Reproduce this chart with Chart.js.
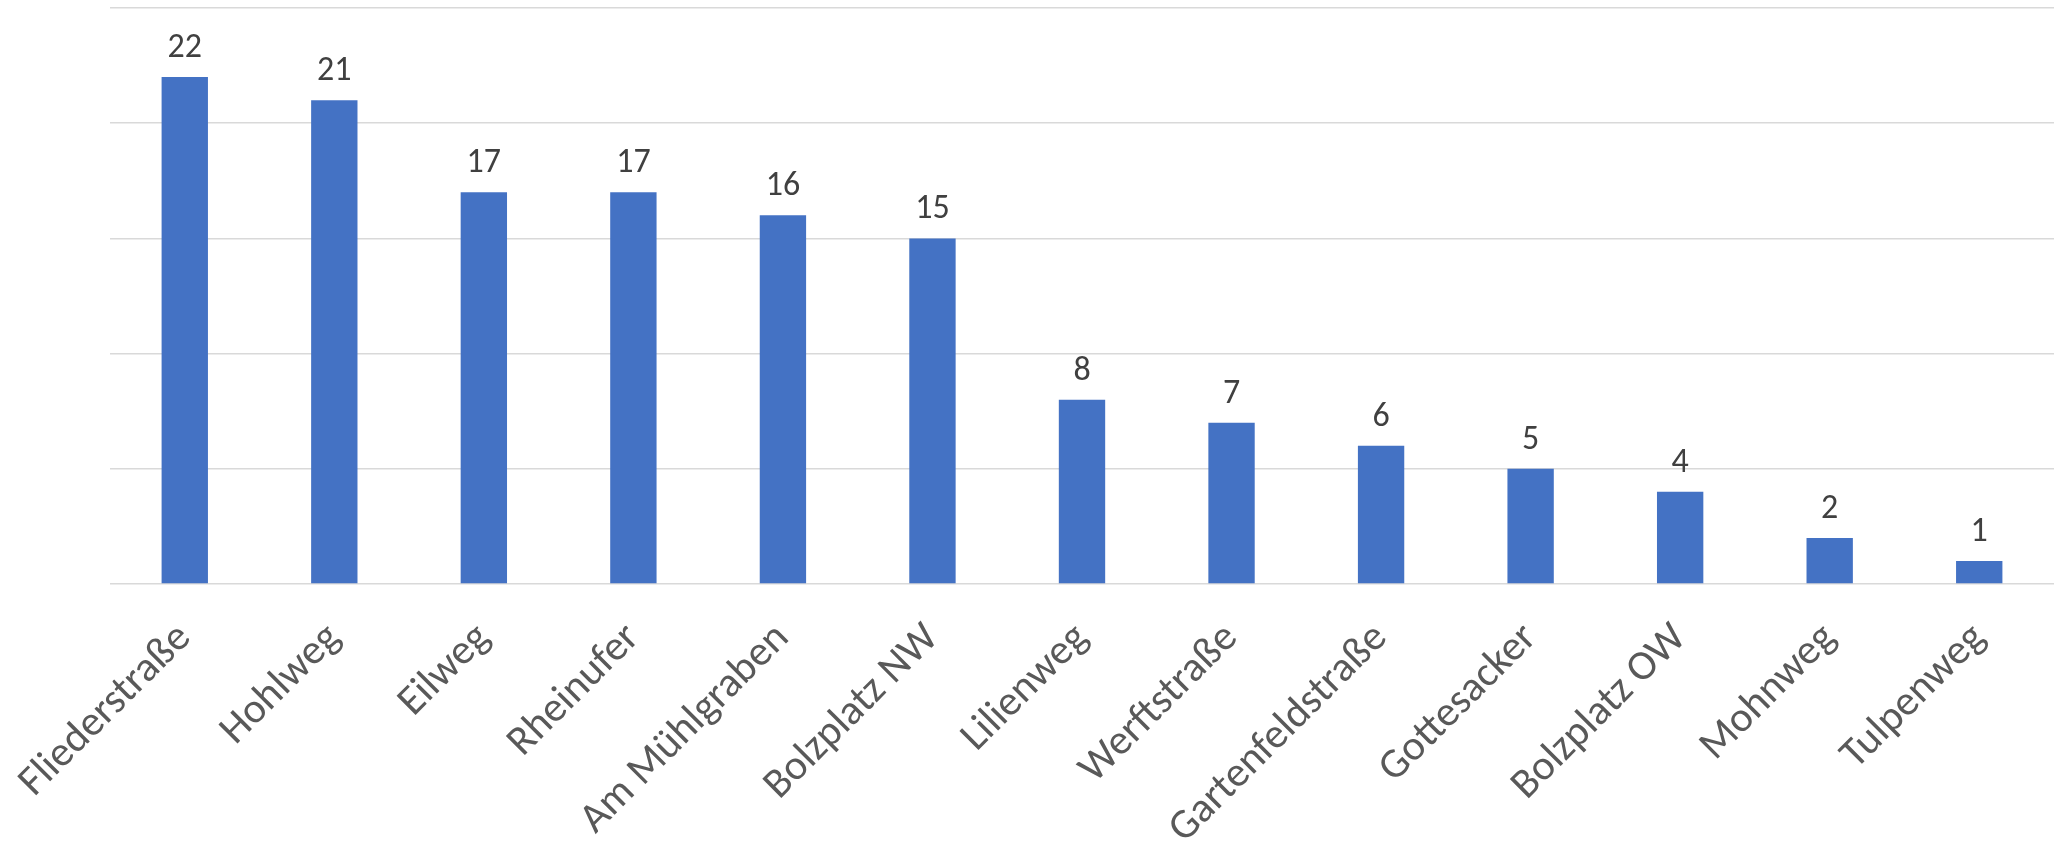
<!DOCTYPE html>
<html>
<head>
<meta charset="utf-8">
<title>Standorte</title>
<script src="https://cdn.jsdelivr.net/npm/chart.js@4/dist/chart.umd.min.js"></script>
<style>
    html, body { margin: 0; padding: 0; background: #ffffff; }
    #chart { display: block; }
</style>
</head>
<body>
<canvas id="chart" width="2054" height="846"></canvas>
<script>
// Chart data
const streets = ['Fliederstraße', 'Hohlweg', 'Eilweg', 'Rheinufer', 'Am Mühlgraben', 'Bolzplatz NW',
    'Lilienweg', 'Werftstraße', 'Gartenfeldstraße', 'Gottesacker', 'Bolzplatz OW', 'Mohnweg', 'Tulpenweg'];
const counts = [22, 21, 17, 17, 16, 15, 8, 7, 6, 5, 4, 2, 1];
const yTicks = [0, 5, 10, 15, 20, 25];

const FONT = 'Calibri, Carlito, Lato, "Open Sans", sans-serif';

// Value labels above each bar (no datalabels plugin available offline)
const barValueLabels = {
    id: 'barValueLabels',
    afterDatasetsDraw(chart) {
        const ctx = chart.ctx;
        const meta = chart.getDatasetMeta(0);
        ctx.save();
        ctx.font = '34px ' + FONT;
        ctx.fillStyle = '#404040';
        ctx.textAlign = 'center';
        ctx.textBaseline = 'alphabetic';
        meta.data.forEach((bar, i) => {
            ctx.fillText(String(counts[i]), bar.x, bar.y - 20);
        });
        ctx.restore();
    }
};

const ctx = document.getElementById('chart').getContext('2d');
new Chart(ctx, {
    type: 'bar',
    data: {
        labels: streets,
        datasets: [{
            data: counts,
            backgroundColor: '#4472c4',
            borderWidth: 0,
            barPercentage: 0.62,
            categoryPercentage: 0.5
        }]
    },
    options: {
        responsive: false,
        animation: false,
        layout: {
            padding: { top: 8, right: 0, bottom: 0, left: 0 }
        },
        plugins: {
            legend: { display: false },
            tooltip: { enabled: false }
        },
        scales: {
            x: {
                grid: { display: false },
                border: { display: false },
                afterFit(scale) {
                    // label band below the plot, as in the original
                    scale.height = 262;
                },
                ticks: {
                    color: '#595959',
                    font: { family: FONT, size: 42 },
                    minRotation: 45,
                    maxRotation: 45,
                    padding: 22,
                    autoSkip: false
                }
            },
            y: {
                min: yTicks[0],
                max: yTicks[yTicks.length - 1],
                afterBuildTicks(scale) {
                    scale.ticks = yTicks.map(v => ({ value: v }));
                },
                afterFit(scale) {
                    // empty strip left of the plot
                    scale.width = 110;
                },
                border: { display: false },
                grid: {
                    color: '#d9d9d9',
                    lineWidth: 1.5,
                    drawTicks: false
                },
                ticks: { display: false }
            }
        }
    },
    plugins: [barValueLabels]
});
</script>
</body>
</html>
